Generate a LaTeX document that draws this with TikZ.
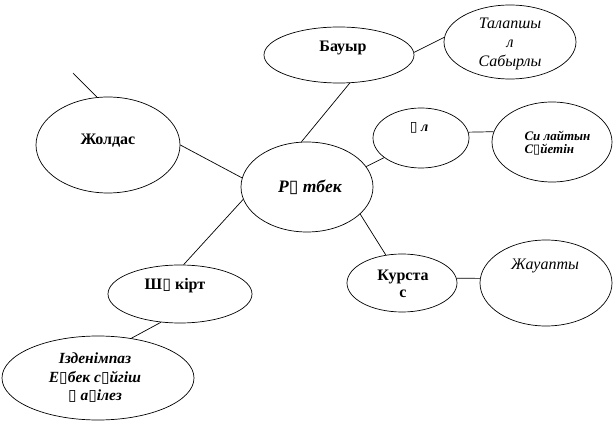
\documentclass[tikz,border=0pt]{standalone}
\usepackage{fontspec}
\setmainfont{Liberation Serif}
\newfontfamily\boxfont{DejaVu Sans}
\usetikzlibrary{shapes.geometric}
\newcommand{\tofu}{{\boxfont\fontseries{m}\fontshape{n}\selectfont\char"25AF}}

\begin{document}
\begin{tikzpicture}[x=1pt,y=-1pt,
    oval/.style={draw,ellipse,inner sep=0pt,line width=0.7pt},
    link/.style={line width=0.7pt},
    bword/.style={font=\fontsize{16}{17}\selectfont\bfseries,align=center},
    iword/.style={font=\fontsize{16}{19}\selectfont\itshape,align=center},
    biword/.style={font=\fontsize{15.5}{18.5}\selectfont\bfseries\itshape,align=center}]
    \useasboundingbox (0,0) rectangle (614,422);

    % Ovals
    \node[oval,minimum width=132pt,minimum height=90pt] (rutbek) at (307,187) {};
    \node[oval,minimum width=150pt,minimum height=56pt] (bauyr) at (339,55) {};
    \node[oval,minimum width=132pt,minimum height=74pt] (talap) at (510,42) {};
    \node[oval,minimum width=96pt,minimum height=60pt] (ul) at (421,138) {};
    \node[oval,minimum width=120pt,minimum height=80pt] (syilai) at (552,142) {};
    \node[oval,minimum width=144pt,minimum height=96pt] (joldas) at (108,145) {};
    \node[oval,minimum width=110pt,minimum height=58pt] (kurstas) at (402,283) {};
    \node[oval,minimum width=132pt,minimum height=86pt] (jauapty) at (546,283) {};
    \node[oval,minimum width=144pt,minimum height=58pt] (shakirt) at (180,294) {};
    \node[oval,minimum width=192pt,minimum height=84pt] (izden) at (98,378) {};
    \coordinate (kite) at (73,73);

    % Texts
    \node[biword,font=\fontsize{17.5}{19}\selectfont\bfseries\itshape] (rutbekT) at (310,187) {Р\tofu\ тбек};
    \node[bword] (bauyrT) at (343,48) {Бауыр};
    \node[iword] (talapT) at (510,44) {Талапшы\\л\\Сабырлы};
    \node[biword,font=\fontsize{14}{15}\selectfont\bfseries\itshape] (ulT) at (419,128) {\tofu\ л};
    \node[biword,font=\fontsize{13}{13.5}\selectfont\bfseries\itshape,align=left,anchor=west] (syilaiT) at (521,143) {Си лайтын\\С\tofu йетін};
    \node[bword] (joldasT) at (108,141) {Жолдас};
    \node[bword] (kurstasT) at (403,284) {Курста\\с};
    \node[iword] (jauaptyT) at (545,266) {Жауапты};
    \node[bword] (shakirtT) at (175,286) {Ш\tofu\ кірт};
    \node[biword] (izdenT) at (95,378) {Ізденімпаз\\Е\tofu бек с\tofu йгіш\\\tofu\ а\tofu ілез};

    % Links
    \draw[link] (bauyr.-69) -- (rutbek.97);
    \draw[link] (talap.176) -- (bauyr.2);
    \draw[link] (ul.-152) -- (rutbek.19);
    \draw[link] (ul.7) -- (syilai.170);
    \draw[link] (joldas.0) -- (rutbek.172);
    \draw[link] (joldas.103) -- (kite);
    \draw[link] (rutbek.-169) -- (shakirt.83);
    \draw[link] (rutbek.-27) -- (kurstas.120);
    \draw[link] (kurstas.5) -- (jauapty.176);
    \draw[link] (shakirt.-124) -- (izden.50);
\end{tikzpicture}
\end{document}
